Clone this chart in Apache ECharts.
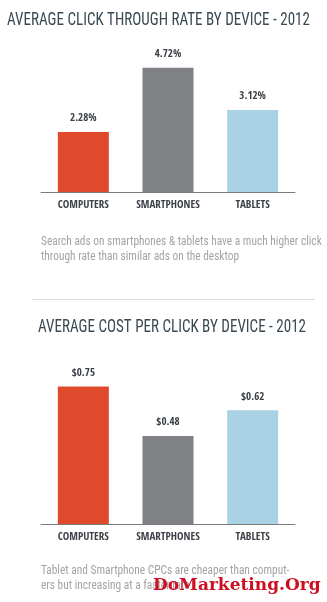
<!DOCTYPE html>
<html><head><meta charset="utf-8">
<script src="https://cdn.jsdelivr.net/npm/echarts@6/dist/echarts.min.js"></script>
<style>html,body{margin:0;padding:0;background:#fff}#chart{width:327px;height:602px}</style>
</head><body>
<div id="chart"></div>
<script>
// Device categories shared by both panels
const devices = ['COMPUTERS', 'SMARTPHONES', 'TABLETS'];
// Average click-through rate (%) by device, 2012
const ctrValues = [2.28, 4.72, 3.12];
// Average cost per click (USD) by device, 2012
const cpcValues = [0.75, 0.48, 0.62];

const titleCtr = 'AVERAGE CLICK THROUGH RATE BY DEVICE - 2012';
const titleCpc = 'AVERAGE COST PER CLICK BY DEVICE - 2012';
const noteCtr = 'Search ads on smartphones & tablets have a much higher click\nthrough rate than similar ads on the desktop';
const noteCpc = 'Tablet and Smartphone CPCs are cheaper than comput-\ners but increasing at a faster rate';

const deviceColors = ['#df4a2c', '#808185', '#a9d3e4'];
const headFont = "'Roboto Condensed', 'DejaVu Sans Condensed', sans-serif";
const boldFont = "'Open Sans Condensed', 'Roboto Condensed', sans-serif";

function barSeries(values, axisIndex, fmt) {
  return {
    type: 'bar',
    xAxisIndex: axisIndex,
    yAxisIndex: axisIndex,
    barWidth: 51,
    data: values.map((v, i) => ({ value: v, itemStyle: { color: deviceColors[i] } })),
    label: {
      show: true,
      position: 'top',
      distance: 8,
      formatter: p => fmt(p.value),
      fontFamily: boldFont,
      fontWeight: 'bold',
      fontSize: 11,
      color: '#3a3f45'
    },
    silent: true
  };
}

function catAxis(gridIndex) {
  return {
    type: 'category',
    gridIndex,
    data: devices,
    axisLine: { lineStyle: { color: '#7a7a7a', width: 1 } },
    axisTick: { show: false },
    axisLabel: {
      interval: 0,
      margin: 8,
      fontFamily: boldFont,
      fontWeight: 'bold',
      fontSize: 11,
      color: '#3d4248'
    }
  };
}

function valAxis(gridIndex, max) {
  return {
    type: 'value',
    gridIndex,
    min: 0,
    max,
    show: false,
    splitLine: { show: false }
  };
}

function headText(x, y, text, sx) {
  return {
    type: 'text', x, y, scaleX: sx,
    style: { text, fontFamily: headFont, fontSize: 18, fill: '#3b4a52', verticalAlign: 'middle', align: 'left' }
  };
}

function noteText(x, y, text, sx) {
  return {
    type: 'text', x, y, scaleX: sx,
    style: { text, fontFamily: headFont, fontSize: 13, lineHeight: 15, fill: '#a4a4a4', verticalAlign: 'top', align: 'left' }
  };
}

const chart = echarts.init(document.getElementById('chart'), null, { renderer: 'canvas' });
chart.setOption({
  animation: false,
  backgroundColor: '#ffffff',
  grid: [
    { left: 41, width: 254, top: 60.5, height: 131.5 },
    { left: 41, width: 254, top: 377.2, height: 146.8 }
  ],
  xAxis: [catAxis(0), catAxis(1)],
  yAxis: [valAxis(0, 5), valAxis(1, 0.8)],
  series: [
    barSeries(ctrValues, 0, v => v.toFixed(2) + '%'),
    barSeries(cpcValues, 1, v => '$' + v.toFixed(2))
  ],
  graphic: [
    headText(7, 20, titleCtr, 0.837),
    noteText(41, 234.5, noteCtr, 0.875),
    { type: 'line', shape: { x1: 32, y1: 299.5, x2: 315, y2: 299.5 }, style: { stroke: '#dddddd', lineWidth: 1 } },
    headText(38, 327, titleCpc, 0.837),
    noteText(41, 563.5, noteCpc, 0.875),
    {
      type: 'text', x: 153, y: 586,
      style: { text: 'DoMarketing.Org', fontFamily: "'DejaVu Serif', serif", fontWeight: 'bold', fontSize: 17, fill: '#cc1022', verticalAlign: 'middle', align: 'left' }
    }
  ]
});
</script></body></html>
